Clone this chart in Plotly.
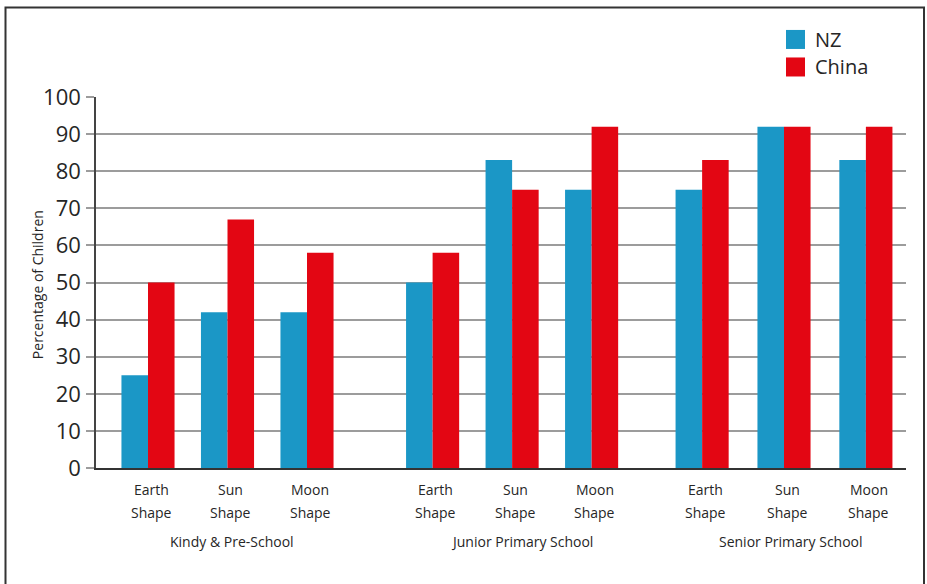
import plotly.graph_objects as go

# Survey results: percentage of children describing each shape correctly
groups = ["Kindy & Pre-School", "Junior Primary School", "Senior Primary School"]
shape_names = ["Earth", "Sun", "Moon"] * 3
shape_word = "Shape"
nz_values = [25, 42, 42, 50, 83, 75, 75, 92, 83]
china_values = [50, 67, 58, 58, 75, 92, 83, 92, 92]
y_ticks = [0, 10, 20, 30, 40, 50, 60, 70, 80, 90, 100]
series_names = ["NZ", "China"]

# slot positions along the x axis (groups separated by a wider gap)
slot_x = [0, 1, 2, 3.58, 4.58, 5.58, 6.97, 8.0, 9.03]
group_label_x = [1.06, 4.70, 8.09]

NZ_COLOR = "#1b97c6"
CHINA_COLOR = "#e30613"
TEXT = "#262626"
GRID = "#9c9c9c"
FONT = "Open Sans"

# plot-area geometry in pixels (used for paper-relative decorations)
L, R, T, B = 96, 906, 97, 467.7
W, H = R - L, B - T


def px_x(p):
    return (p - L) / W


def px_y(p):
    return (B - p) / H


bar_w = 0.334
fig = go.Figure()
fig.add_trace(go.Bar(x=slot_x, y=nz_values, name=series_names[0],
                     marker=dict(color=NZ_COLOR, line=dict(width=0)),
                     width=bar_w, offset=-bar_w, showlegend=False))
fig.add_trace(go.Bar(x=slot_x, y=china_values, name=series_names[1],
                     marker=dict(color=CHINA_COLOR, line=dict(width=0)),
                     width=bar_w, offset=0, showlegend=False))

annotations = []
# two-line category labels under each bar pair
for xv, nm in zip(slot_x, shape_names):
    annotations.append(dict(x=xv, y=px_y(489), xref="x", yref="paper",
                            text=nm, showarrow=False, yanchor="middle", xshift=3,
                            font=dict(family=FONT, size=14, color=TEXT)))
    annotations.append(dict(x=xv, y=px_y(512), xref="x", yref="paper",
                            text=shape_word, showarrow=False, yanchor="middle", xshift=3,
                            font=dict(family=FONT, size=14, color=TEXT)))
# group labels
for gx, g in zip(group_label_x, groups):
    annotations.append(dict(x=gx, y=px_y(541), xref="x", yref="paper",
                            text=g, showarrow=False, yanchor="middle",
                            font=dict(family=FONT, size=14, color=TEXT)))
# y-axis title
annotations.append(dict(x=px_x(37), y=px_y(285), xref="paper", yref="paper",
                        text="Percentage of Children", textangle=-90,
                        showarrow=False, xanchor="center", yanchor="middle",
                        font=dict(family=FONT, size=14, color=TEXT)))

# legend: colour squares with labels
shapes = []
legend_rows = [(series_names[0], NZ_COLOR, 39.5), (series_names[1], CHINA_COLOR, 67)]
for name, col, cy in legend_rows:
    shapes.append(dict(type="rect", xref="paper", yref="paper",
                       x0=px_x(786), x1=px_x(805), y0=px_y(cy + 9.5), y1=px_y(cy - 9.5),
                       fillcolor=col, line=dict(width=0)))
    annotations.append(dict(x=px_x(813), y=px_y(cy), xref="paper", yref="paper",
                            text=name, showarrow=False, xanchor="left", yanchor="middle",
                            font=dict(family=FONT, size=20, color=TEXT)))

# outer frame
shapes.append(dict(type="rect", xref="paper", yref="paper",
                   x0=px_x(5.5), x1=px_x(924), y0=px_y(620), y1=px_y(7.5),
                   line=dict(color="#333333", width=2), fillcolor="rgba(0,0,0,0)",
                   layer="below"))

x_lo = slot_x[0] - (148 - L) / 79.5
x_hi = slot_x[0] + (R - 148) / 79.5

fig.update_layout(
    width=927, height=584,
    margin=dict(l=L, r=927 - R, t=T, b=584 - B, pad=0),
    paper_bgcolor="white", plot_bgcolor="white",
    barmode="overlay",
    font=dict(family=FONT, color=TEXT),
    xaxis=dict(range=[x_lo, x_hi], showticklabels=False, ticks="",
               showgrid=False, zeroline=False, showline=True,
               linecolor="#333333", linewidth=2, fixedrange=True),
    yaxis=dict(range=[0, 100], tickvals=y_ticks, showgrid=True,
               gridcolor=GRID, gridwidth=1.5, zeroline=False,
               showline=True, linecolor="#444444", linewidth=1.5,
               ticks="outside", ticklen=8, tickcolor=GRID, tickwidth=1.5,
               ticklabelstandoff=1,
               tickfont=dict(family=FONT, size=22, color=TEXT)),
    annotations=annotations,
    shapes=shapes,
)

fig.write_html("out.html")
